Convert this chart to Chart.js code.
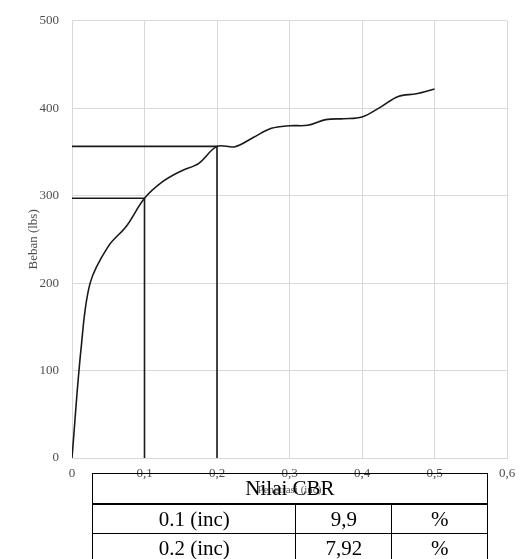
<!DOCTYPE html>
<html>
<head>
<meta charset="utf-8">
<script src="https://cdn.jsdelivr.net/npm/chart.js@4/dist/chart.umd.min.js"></script>
<style>
  html, body { margin: 0; padding: 0; background: #fff; }
  #wrap { position: relative; width: 528px; height: 559px; overflow: hidden; }
  #c { position: absolute; left: 0; top: 0; }
  table.cbr {
    position: absolute; left: 92px; top: 473px; width: 396px;
    border-collapse: collapse; background: transparent;
    font-family: "Liberation Serif", "Times New Roman", serif; color: #000;
  }
  table.cbr td { border: 1.5px solid #000; text-align: center; padding: 0; line-height: 1; }
  table.cbr tr.head td { height: 29px; font-size: 21px; border-bottom: 2.5px solid #000; }
  table.cbr tr.row td { height: 28px; font-size: 21px; }
</style>
</head>
<body>
<div id="wrap">
  <canvas id="c" width="528" height="559"></canvas>
  <table class="cbr" id="tbl"></table>
</div>
<script>
// ---- data ----
const penetrasi = [0, 0.0125, 0.025, 0.05, 0.075, 0.1, 0.125, 0.15, 0.175, 0.2, 0.225, 0.25, 0.275, 0.3, 0.325, 0.35, 0.375, 0.4, 0.425, 0.45, 0.475, 0.5];
const beban = [0, 125, 200, 242, 265, 297, 316, 328, 337, 356.4, 356, 366.5, 377, 380, 380.5, 387, 388, 390, 401, 413.5, 416.5, 422];
const cbrPenetrasi = [0.1, 0.2];
const cbrBeban = [297, 356.4];
const tableHeader = "Nilai CBR";
const tableLabels = ["0.1 (inc)", "0.2 (inc)"];
const tableValues = ["9,9", "7,92"];
const tableUnits = ["%", "%"];
const xTitle = "Penetrasi (inc)";
const yTitle = "Beban (lbs)";

// ---- table ----
const tbl = document.getElementById('tbl');
let html = '<colgroup><col style="width:204px"><col style="width:96px"><col style="width:96px"></colgroup>';
html += '<tr class="head"><td colspan="3">' + tableHeader + '</td></tr>';
for (let i = 0; i < tableLabels.length; i++) {
  html += '<tr class="row"><td>' + tableLabels[i] + '</td><td>' + tableValues[i] + '</td><td>' + tableUnits[i] + '</td></tr>';
}
tbl.innerHTML = html;

// ---- chart ----
const curve = penetrasi.map((p, i) => ({ x: p, y: beban[i] }));
const refSets = cbrPenetrasi.map((p, i) => ({
  data: [{ x: 0, y: cbrBeban[i] }, { x: p, y: cbrBeban[i] }, { x: p, y: 0 }],
  borderColor: '#1a1a1a', borderWidth: 1.6, pointRadius: 0, tension: 0, fill: false
}));

const serif = "'Liberation Serif', 'Times New Roman', serif";
new Chart(document.getElementById('c'), {
  type: 'line',
  data: {
    datasets: [
      { data: curve, borderColor: '#1a1a1a', borderWidth: 1.6, pointRadius: 0, tension: 0.35, fill: false },
      ...refSets
    ]
  },
  options: {
    responsive: false,
    animation: false,
    layout: { padding: { top: 15, right: 21, bottom: 0, left: 0 } },
    plugins: { legend: { display: false }, tooltip: { enabled: false } },
    scales: {
      x: {
        type: 'linear', min: 0, max: 0.6,
        grid: { color: '#d9d9d9', drawTicks: false },
        border: { color: '#d9d9d9' },
        ticks: {
          stepSize: 0.1, padding: 8, color: '#4d4d4d',
          font: { family: serif, size: 13 },
          callback: v => (Math.round(v * 10) === 0 ? '0' : (Math.round(v * 10) / 10).toFixed(1).replace('.', ','))
        },
        title: { display: true, text: xTitle, color: '#595959', font: { family: serif, size: 11 }, padding: { top: 0, bottom: 62 } },
        afterFit: s => { s.height = 101; }
      },
      y: {
        min: 0, max: 500,
        grid: { color: '#d9d9d9', drawTicks: false },
        border: { color: '#d9d9d9' },
        ticks: { stepSize: 100, padding: 13, color: '#4d4d4d', font: { family: serif, size: 13 } },
        title: { display: true, text: yTitle, color: '#4d4d4d', font: { family: serif, size: 13 }, padding: { top: 26, bottom: 0 } },
        afterFit: s => { s.width = 72; }
      }
    }
  }
});
</script>
</body>
</html>
